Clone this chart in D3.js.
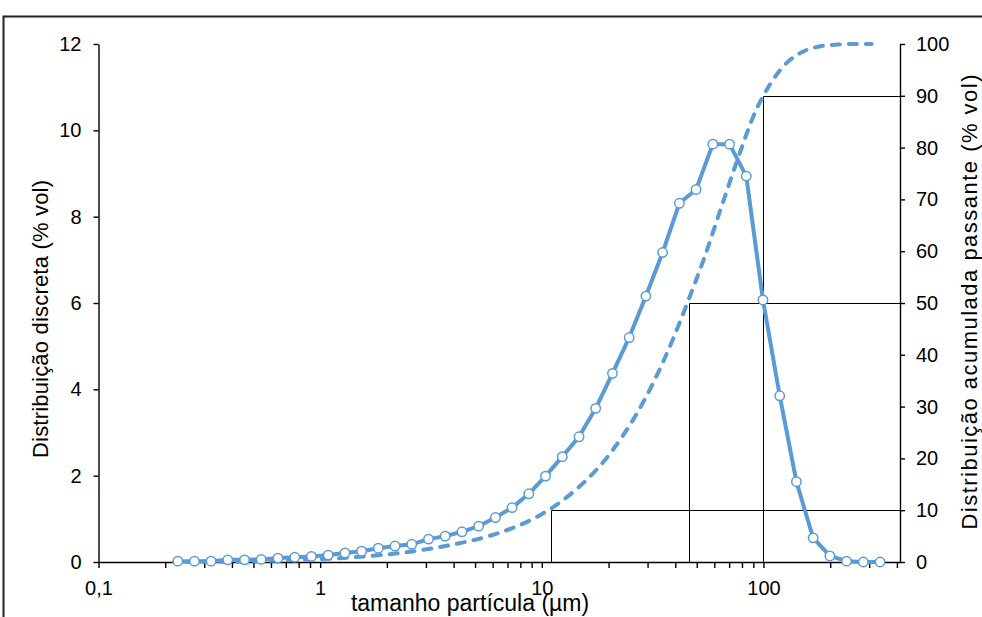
<!DOCTYPE html>
<html>
<head>
<meta charset="utf-8">
<script src="https://cdn.jsdelivr.net/npm/d3@7"></script>
<style>
  body { margin: 0; background: #fff; }
  svg { display: block; }
  text { font-family: "Liberation Sans", Arial, sans-serif; fill: #000; }
</style>
</head>
<body>
<svg id="chart" width="982" height="617"></svg>
<script>
// Particle size classes (µm) and discrete volume distribution (% vol)
const sizes = [0.228, 0.271, 0.322, 0.383, 0.456, 0.542, 0.645, 0.768, 0.913, 1.087,
  1.293, 1.538, 1.830, 2.177, 2.590, 3.082, 3.666, 4.362, 5.190, 6.174,
  7.345, 8.739, 10.39, 12.37, 14.72, 17.51, 20.83, 24.78, 29.49, 35.08,
  41.74, 49.65, 59.08, 70.28, 83.62, 99.47, 118.4, 140.8, 167.5, 199.3,
  237.1, 282.1, 335.6];
const discrete = [0.02, 0.02, 0.02, 0.05, 0.05, 0.06, 0.09, 0.11, 0.13, 0.16,
  0.21, 0.25, 0.32, 0.37, 0.41, 0.53, 0.60, 0.70, 0.83, 1.03,
  1.26, 1.58, 1.99, 2.44, 2.90, 3.56, 4.37, 5.20, 6.16, 7.17,
  8.31, 8.63, 9.68, 9.68, 8.94, 6.07, 3.85, 1.86, 0.56, 0.14,
  0.02, 0.00, 0.00];

// Upper class limits (µm) and cumulative passing (% vol)
const cumSizes = [0.248, 0.295, 0.351, 0.418, 0.497, 0.592, 0.704, 0.837, 0.996, 1.185,
  1.410, 1.678, 1.996, 2.375, 2.825, 3.361, 3.999, 4.758, 5.661, 6.734,
  8.011, 9.531, 11.34, 13.49, 16.05, 19.10, 22.72, 27.03, 32.16, 38.26,
  45.52, 54.16, 64.43, 76.66, 91.20, 108.5, 129.1, 153.6, 182.7, 217.4,
  258.7, 307.7];
const cumulative = [0.02, 0.04, 0.06, 0.11, 0.16, 0.22, 0.31, 0.42, 0.55, 0.71,
  0.92, 1.17, 1.45, 1.80, 2.25, 2.78, 3.38, 4.08, 4.90, 5.93,
  7.19, 8.75, 10.7, 13.1, 16.0, 19.5, 23.8, 28.9, 35.0, 42.1,
  50.2, 58.8, 68.4, 77.9, 86.6, 92.6, 96.6, 98.7, 99.6, 99.9,
  100, 100];

// Characteristic diameters D10, D50, D90 (µm) and their passing levels (%)
const dSizes = [11.0, 46.1, 99.8];
const dLevels = [10, 50, 90];

// Axis ticks
const leftTicks = [0, 2, 4, 6, 8, 10, 12];
const rightTicks = [0, 10, 20, 30, 40, 50, 60, 70, 80, 90, 100];
const xMajorTicks = [0.1, 1, 10, 100];
const xMajorLabels = ["0,1", "1", "10", "100"];
const xMinorTicks = [0.2, 0.3, 0.4, 0.5, 0.6, 0.7, 0.8, 0.9,
  2, 3, 4, 5, 6, 7, 8, 9,
  20, 30, 40, 50, 60, 70, 80, 90,
  200, 300, 400];

const svg = d3.select("#chart");
const blue = "#5b9bd5";
const plotLeft = 98.5, plotRight = 900, plotTop = 44, plotBottom = 562;

const x = d3.scaleLog().domain([0.1, 413]).range([plotLeft, plotRight]);
const yL = d3.scaleLinear().domain([0, 12]).range([plotBottom, plotTop]);
const yR = d3.scaleLinear().domain([0, 100]).range([plotBottom, plotTop]);

// outer frame (top and left edges)
svg.append("path")
  .attr("d", "M3.5,617V16.5H982")
  .attr("fill", "none").attr("stroke", "#222").attr("stroke-width", 2);

// D10 / D50 / D90 guide lines
const guides = svg.append("g").attr("stroke", "#000").attr("stroke-width", 1).attr("fill", "none");
dSizes.forEach((d, i) => {
  const px = Math.round(x(d)) + 0.5, py = Math.round(yR(dLevels[i])) + 0.5;
  guides.append("path").attr("d", `M${px},${yR(0)}V${py}H${x.range()[1]}`);
});

// axes
const labelFor = d => { const k = xMajorTicks.indexOf(d); return k >= 0 ? xMajorLabels[k] : ""; };
const xAxis = d3.axisBottom(x)
  .tickValues(xMajorTicks.concat(xMinorTicks))
  .tickFormat(labelFor)
  .tickSize(6).tickSizeOuter(0).tickPadding(13);
const gx = svg.append("g").attr("transform", `translate(0,${plotBottom})`).call(xAxis);

const gl = svg.append("g").attr("transform", `translate(${plotLeft},0)`)
  .call(d3.axisLeft(yL).tickValues(leftTicks).tickSize(5).tickSizeOuter(0).tickPadding(12));

const gr = svg.append("g").attr("transform", `translate(${plotRight},0)`)
  .call(d3.axisRight(yR).tickValues(rightTicks).tickSize(5).tickSizeOuter(0).tickPadding(11));

[gx, gl, gr].forEach(g => {
  g.selectAll("path.domain").attr("stroke", "#000").attr("stroke-width", 1.4);
  g.selectAll(".tick line").attr("stroke", "#000").attr("stroke-width", 1.4);
  g.selectAll("text").attr("font-size", 20).attr("font-family", "Liberation Sans, Arial, sans-serif").attr("fill", "#000");
});

// cumulative passing curve (dashed)
const cumLine = d3.line()
  .x((d, i) => x(cumSizes[i]))
  .y(d => yR(d))
  .curve(d3.curveMonotoneX);
svg.append("path")
  .datum(cumulative)
  .attr("d", cumLine)
  .attr("fill", "none")
  .attr("stroke", blue)
  .attr("stroke-width", 4)
  .attr("stroke-dasharray", "8,9")
  .attr("stroke-linecap", "round");

// discrete distribution with markers
const discLine = d3.line()
  .x((d, i) => x(sizes[i]))
  .y(d => yL(d));
svg.append("path")
  .datum(discrete)
  .attr("d", discLine)
  .attr("fill", "none")
  .attr("stroke", blue)
  .attr("stroke-width", 4)
  .attr("stroke-linejoin", "round");

svg.append("g").selectAll("circle")
  .data(discrete)
  .join("circle")
  .attr("cx", (d, i) => x(sizes[i]))
  .attr("cy", d => yL(d))
  .attr("r", 4.7)
  .attr("fill", "#fff")
  .attr("stroke", blue)
  .attr("stroke-width", 1.5);

// axis titles
svg.append("text")
  .attr("transform", "translate(40,319) rotate(-90)")
  .attr("text-anchor", "middle").attr("dominant-baseline", "central")
  .attr("font-size", 22)
  .attr("textLength", 278).attr("lengthAdjust", "spacing")
  .text("Distribuição discreta (% vol)");

svg.append("text")
  .attr("transform", "translate(969,302) rotate(-90)")
  .attr("text-anchor", "middle").attr("dominant-baseline", "central")
  .attr("font-size", 22)
  .attr("textLength", 455).attr("lengthAdjust", "spacing")
  .text("Distribuição acumulada passante (% vol)");

svg.append("text")
  .attr("x", 470).attr("y", 611)
  .attr("text-anchor", "middle")
  .attr("font-size", 23)
  .text("tamanho partícula (µm)");
</script>
</body>
</html>
